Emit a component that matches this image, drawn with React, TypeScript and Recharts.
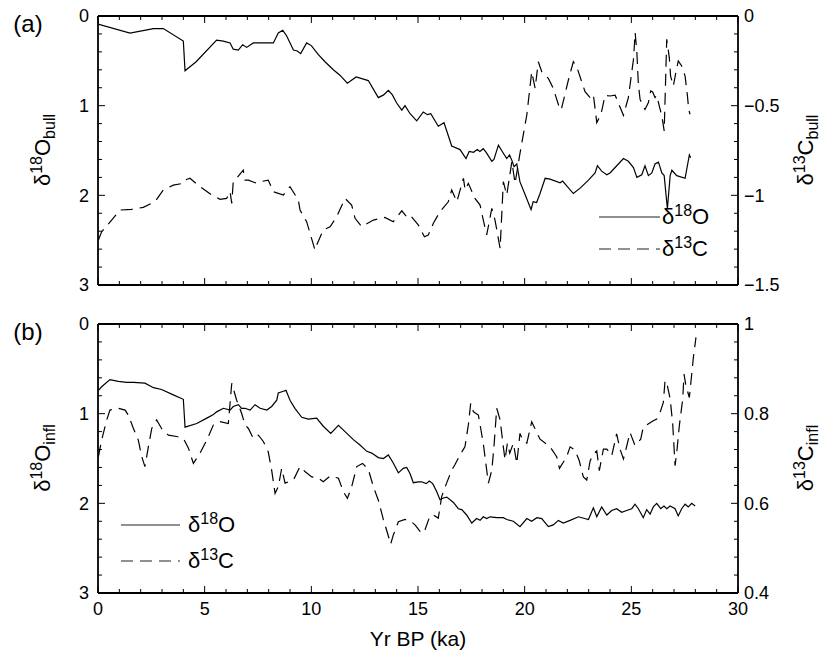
import React from "react";
import { LineChart, Line, XAxis, YAxis, Legend } from "recharts";

const FONT = "'Liberation Sans', Arial, Helvetica, sans-serif";

// (a) bulls: δ18O (left axis, reversed) and δ13C (right axis)
const bullO18Age = [
  0, 1.5, 2.6, 3.06, 4.0, 4.08, 4.6, 5.56, 5.87, 6.19, 6.34, 6.58, 6.78, 6.97, 7.28, 7.75, 8.22, 8.45, 8.66, 8.84,
  9.16, 9.34, 9.5, 9.78, 10.0, 10.33, 10.64, 11.03, 11.34, 11.69, 12.1, 12.67, 13.14, 13.39, 13.61, 13.8, 14.0,
  14.24, 14.39, 14.63, 14.94, 15.25, 15.44, 15.6, 15.95, 16.22, 16.58, 16.97, 17.25, 17.4, 17.6, 17.78, 17.9,
  18.06, 18.22, 18.46, 18.56, 18.77, 19.0, 19.16, 19.29, 19.4, 19.5, 19.63, 19.78, 20.0, 20.3, 20.4, 20.56, 20.72,
  20.96, 21.19, 21.66, 21.78, 22.28, 22.6, 22.99, 23.3, 23.41, 23.61, 23.85, 24.0, 24.24, 24.63, 24.86, 25.1,
  25.26, 25.49, 25.64, 25.8, 25.96, 26.11, 26.27, 26.43, 26.54, 26.6, 26.69, 26.82, 26.9, 27.13, 27.52, 27.72, 27.78,
];
const bullO18 = [
  0.09, 0.19, 0.14, 0.14, 0.28, 0.61, 0.51, 0.27, 0.28, 0.3, 0.37, 0.38, 0.32, 0.35, 0.3, 0.3, 0.3, 0.19, 0.16, 0.22,
  0.38, 0.39, 0.42, 0.3, 0.33, 0.43, 0.51, 0.6, 0.66, 0.75, 0.68, 0.72, 0.91, 0.88, 0.83, 0.88, 0.97,
  1.05, 1.0, 1.09, 1.17, 1.07, 1.1, 1.09, 1.23, 1.19, 1.45, 1.49, 1.59, 1.51, 1.52, 1.49, 1.51,
  1.48, 1.53, 1.62, 1.6, 1.44, 1.53, 1.59, 1.55, 1.61, 1.68, 1.65, 1.85, 1.98, 2.16, 2.07, 2.08, 1.98,
  1.81, 1.82, 1.86, 1.84, 1.98, 1.92, 1.83, 1.75, 1.67, 1.73, 1.77, 1.75, 1.69, 1.59, 1.62, 1.69,
  1.8, 1.77, 1.67, 1.78, 1.75, 1.65, 1.63, 1.75, 1.78, 1.93, 2.15, 1.78, 1.72, 1.78, 1.81, 1.55, 1.58,
];
const bullC13Age = [
  0.02, 0.17, 0.64, 1.03, 1.58, 2.12, 2.67, 3.06, 3.53, 4.0, 4.08, 4.31, 4.78, 5.33, 5.72, 6.03, 6.19, 6.27, 6.34,
  6.5, 6.81, 6.89, 7.05, 7.44, 7.6, 7.98, 8.22, 8.69, 9.0, 9.39, 9.47, 9.78, 9.94, 10.17, 10.25, 10.56, 10.88,
  11.19, 11.58, 11.89, 12.05, 12.36, 12.91, 13.45, 13.84, 14.24, 14.47, 14.63, 15.02, 15.3, 15.48, 15.72, 16.03,
  16.42, 16.58, 16.82, 17.13, 17.21, 17.36, 17.67, 17.91, 17.99, 18.22, 18.46, 18.61, 18.85, 19.0, 19.16, 19.4,
  19.55, 19.78, 20.1, 20.33, 20.49, 20.64, 20.8, 21.11, 21.34, 21.66, 21.73, 22.05, 22.28, 22.44, 22.83, 23.07,
  23.22, 23.38, 23.53, 23.61, 23.77, 24.0, 24.24, 24.63, 24.86, 25.1, 25.18, 25.26, 25.33, 25.41, 25.64, 25.8,
  25.91, 26.0, 26.11, 26.19, 26.35, 26.43, 26.54, 26.66, 26.78, 26.84, 26.97, 27.1, 27.2, 27.36, 27.52, 27.63,
  27.69, 27.75,
];
const bullC13 = [
  -1.249, -1.203, -1.138, -1.082, -1.078, -1.067, -1.036, -0.97, -0.943, -0.933, -0.915, -0.905, -0.952, -0.998,
  -1.022, -1.017, -0.98, -1.045, -0.924, -0.905, -0.859, -0.915, -0.915, -0.933, -0.924, -0.915, -0.98, -0.998,
  -0.952, -1.026, -1.082, -1.147, -1.212, -1.305, -1.277, -1.193, -1.175, -1.119, -1.017, -1.054, -1.128, -1.175,
  -1.138, -1.123, -1.147, -1.086, -1.119, -1.11, -1.166, -1.231, -1.222, -1.156, -1.091, -1.036, -0.97, -1.036,
  -0.905, -0.97, -0.933, -1.017, -1.054, -1.1, -1.221, -1.073, -1.138, -1.296, -0.924, -0.998, -0.812, -0.933,
  -0.766, -0.552, -0.311, -0.403, -0.255, -0.311, -0.348, -0.403, -0.524, -0.515, -0.357, -0.255, -0.283, -0.422,
  -0.455, -0.437, -0.595, -0.558, -0.53, -0.442, -0.446, -0.442, -0.554, -0.455, -0.242, -0.093, -0.205, -0.381,
  -0.465, -0.521, -0.483, -0.418, -0.424, -0.455, -0.442, -0.521, -0.558, -0.641, -0.13, -0.232, -0.335, -0.39,
  -0.307, -0.251, -0.279, -0.335, -0.446, -0.521, -0.548,
];

// (b) infl: δ18O (left axis, reversed) and δ13C (right axis)
const inflO18Age = [
  0.02, 0.17, 0.56, 0.95, 1.34, 1.66, 2.2, 2.6, 2.98, 3.53, 4.0, 4.08, 4.63, 5.1, 5.41, 5.56, 5.88, 6.19, 6.34, 6.58,
  6.73, 6.89, 7.13, 7.36, 7.6, 7.91, 8.14, 8.38, 8.45, 8.69, 8.81, 9.0, 9.23, 9.55, 9.86, 10.25, 10.56, 10.91, 11.27,
  11.58, 11.97, 12.28, 12.6, 12.83, 13.14, 13.38, 13.61, 13.84, 14.08, 14.31, 14.47, 14.63, 14.78, 15.02, 15.17,
  15.38, 15.53, 15.69, 15.88, 16.03, 16.19, 16.35, 16.66, 16.89, 17.05, 17.28, 17.52, 17.75, 17.91, 18.06, 18.22,
  18.38, 18.69, 19.0, 19.16, 19.47, 19.78, 20.1, 20.33, 20.57, 20.8, 21.11, 21.34, 21.58, 21.81, 22.13, 22.52,
  22.99, 23.22, 23.38, 23.61, 23.85, 24.08, 24.31, 24.55, 24.78, 25.02, 25.17, 25.33, 25.56, 25.72, 25.88, 26.03,
  26.19, 26.38, 26.53, 26.66, 26.82, 27.05, 27.2, 27.36, 27.52, 27.67, 27.83, 27.99,
];
const inflO18 = [
  0.74, 0.7, 0.62, 0.64, 0.65, 0.65, 0.66, 0.71, 0.73, 0.79, 0.84, 1.15, 1.11, 1.05, 1.01, 0.98, 0.94, 0.96, 0.92, 0.9,
  0.94, 0.94, 0.96, 0.9, 0.94, 0.96, 0.92, 0.85, 0.77, 0.75, 0.74, 0.85, 0.94, 1.04, 1.06, 1.05, 1.14, 1.22, 1.13,
  1.2, 1.29, 1.35, 1.42, 1.44, 1.49, 1.5, 1.46, 1.55, 1.66, 1.61, 1.6, 1.67, 1.77, 1.76, 1.76,
  1.78, 1.75, 1.78, 1.87, 1.96, 1.94, 1.93, 1.99, 2.06, 2.07, 2.13, 2.22, 2.17, 2.19, 2.15, 2.17,
  2.15, 2.16, 2.16, 2.18, 2.2, 2.26, 2.17, 2.2, 2.16, 2.17, 2.26, 2.24, 2.19, 2.22, 2.19, 2.15,
  2.18, 2.05, 2.15, 2.04, 2.13, 2.08, 2.06, 2.1, 2.08, 2.06, 2.01, 2.06, 2.16, 2.07, 2.12, 2.04,
  2.0, 2.06, 2.03, 2.06, 2.03, 2.06, 2.14, 2.06, 2.01, 2.04, 2.0, 2.03,
];
const inflC13Age = [
  0.02, 0.17, 0.41, 0.56, 0.95, 1.27, 1.42, 1.66, 1.89, 2.05, 2.2, 2.36, 2.52, 2.75, 2.98, 3.3, 3.69, 4.0, 4.24,
  4.47, 4.78, 5.1, 5.41, 5.72, 6.11, 6.27, 6.5, 6.73, 6.89, 7.05, 7.28, 7.52, 7.75, 7.98, 8.14, 8.3, 8.45, 8.61,
  8.77, 9.16, 9.47, 9.7, 10.02, 10.33, 10.56, 10.88, 11.27, 11.5, 11.69, 11.89, 12.13, 12.4, 12.67, 12.91, 13.14,
  13.38, 13.53, 13.72, 13.84, 14.08, 14.39, 14.63, 14.86, 15.17, 15.33, 15.56, 15.72, 15.95, 16.11, 16.19, 16.34,
  16.58, 16.73, 16.97, 17.2, 17.36, 17.47, 17.6, 17.83, 17.91, 18.06, 18.22, 18.3, 18.46, 18.56, 18.69, 18.85,
  19.0, 19.08, 19.19, 19.3, 19.47, 19.63, 19.78, 19.91, 20.1, 20.33, 20.44, 20.72, 21.19, 21.5, 21.63, 21.97,
  22.13, 22.36, 22.56, 22.75, 22.91, 23.07, 23.22, 23.38, 23.5, 23.69, 23.85, 24.08, 24.31, 24.47, 24.63, 24.75,
  24.94, 25.17, 25.44, 25.56, 26.03, 26.19, 26.35, 26.5, 26.58, 26.69, 26.82, 26.94, 27.05, 27.13, 27.25, 27.41,
  27.47, 27.56, 27.72, 27.91, 28.03,
];
const inflC13 = [
  0.704, 0.741, 0.786, 0.808, 0.812, 0.808, 0.797, 0.767, 0.741, 0.704, 0.682, 0.726, 0.767, 0.786, 0.767, 0.752,
  0.749, 0.745, 0.723, 0.689, 0.712, 0.741, 0.775, 0.782, 0.778, 0.868, 0.83, 0.801, 0.775, 0.767, 0.745, 0.752,
  0.738, 0.715, 0.674, 0.622, 0.637, 0.678, 0.645, 0.652, 0.682, 0.671, 0.659, 0.656, 0.648, 0.661, 0.656, 0.626,
  0.611, 0.637, 0.682, 0.689, 0.676, 0.637, 0.607, 0.563, 0.54, 0.509, 0.529, 0.559, 0.564, 0.561, 0.552, 0.533,
  0.541, 0.572, 0.574, 0.567, 0.615, 0.626, 0.645, 0.674, 0.686, 0.708, 0.726, 0.775, 0.823, 0.804, 0.797, 0.775,
  0.734, 0.674, 0.645, 0.674, 0.726, 0.812, 0.786, 0.726, 0.697, 0.734, 0.712, 0.734, 0.689, 0.756, 0.741, 0.734,
  0.782, 0.771, 0.743, 0.726, 0.704, 0.678, 0.704, 0.726, 0.719, 0.695, 0.659, 0.652, 0.695, 0.71, 0.717, 0.673,
  0.721, 0.721, 0.706, 0.755, 0.721, 0.699, 0.721, 0.758, 0.729, 0.743, 0.77, 0.784, 0.788, 0.803, 0.825, 0.874,
  0.862, 0.833, 0.777, 0.684, 0.714, 0.773, 0.833, 0.888, 0.862, 0.836, 0.926, 0.97,
];

const xTicks = Array.from({ length: 31 }, (_, i) => i);
const o18Ticks = Array.from({ length: 16 }, (_, i) => i * 0.2);
const bullC13Ticks = Array.from({ length: 16 }, (_, i) => -1.5 + i * 0.1);
const inflC13Ticks = Array.from({ length: 16 }, (_, i) => 0.4 + i * 0.04);

const toPts = (xs: number[], ys: number[]) => xs.map((x, i) => ({ x, y: ys[i] }));

const isMajor = (v: number, step: number) => Math.abs(v / step - Math.round(v / step)) < 1e-6;
const fmt = (v: number) => {
  const r = Math.round(v * 100) / 100;
  return r < 0 ? "\u2212" + Math.abs(r) : String(r);
};

const TICK_FONT = 18;
const TITLE_FONT = 22;
const SUB_FONT = 16;
const DASH = "12 7";

// axes are 1px wide/high (recharts skips 0-sized axes); ticks drawn inward by hand
const yTick = (side: "left" | "right", step: number) => (p: any) => {
  const { x, y, payload } = p;
  const major = isMajor(payload.value, step);
  const dir = side === "left" ? 1 : -1;
  return (
    <g>
      <line x1={x} x2={x + dir * (major ? 7 : 4)} y1={y} y2={y} stroke="#000" strokeWidth={1} />
      {major && (
        <text
          x={side === "left" ? x - 9 : x + 6}
          y={y}
          dy="0.35em"
          textAnchor={side === "left" ? "end" : "start"}
          fontFamily={FONT}
          fontSize={TICK_FONT}
          fill="#000"
        >
          {fmt(payload.value)}
        </text>
      )}
    </g>
  );
};

const xTick = (side: "top" | "bottom", labels: boolean) => (p: any) => {
  const { x, y, payload } = p;
  const major = isMajor(payload.value, 5);
  const dir = side === "top" ? 1 : -1;
  return (
    <g>
      <line x1={x} x2={x} y1={y} y2={y + dir * (major ? 7 : 4)} stroke="#000" strokeWidth={1} />
      {labels && major && (
        <text x={x} y={y + 9} dy="0.71em" textAnchor="middle" fontFamily={FONT} fontSize={TICK_FONT} fill="#000">
          {fmt(payload.value)}
        </text>
      )}
    </g>
  );
};

// rotated axis title such as δ18O_bull
const rotTitle = (x: number, y: number, sup: string, main: string, sub: string, panel?: string) => () => (
  <g>
    <text
      transform={`rotate(-90 ${x} ${y})`}
      x={x}
      y={y}
      textAnchor="middle"
      fontFamily={FONT}
      fontSize={TITLE_FONT}
      fill="#000"
    >
      δ
      <tspan fontSize={SUB_FONT} dy={-8}>
        {sup}
      </tspan>
      <tspan dy={8}>{main}</tspan>
      <tspan fontSize={SUB_FONT} dy={5}>
        {sub}
      </tspan>
    </text>
    {panel && (
      <text x={28} y={32} textAnchor="middle" fontFamily={FONT} fontSize={24} fill="#000">
        {panel}
      </text>
    )}
  </g>
);

const richName = (name: string) => {
  const m = /^δ(\d+)(\w+)$/.exec(name);
  if (!m) return name;
  return (
    <>
      δ
      <tspan fontSize={SUB_FONT} dy={-8}>
        {m[1]}
      </tspan>
      <tspan dy={8}>{m[2]}</tspan>
    </>
  );
};

const legendContent = (lineLen: number, textX: number, gap: number) => (props: any) => {
  const items = [...(props.payload || [])].sort(
    (a: any, b: any) => (a.payload?.strokeDasharray ? 1 : 0) - (b.payload?.strokeDasharray ? 1 : 0)
  );
  return (
    <svg width={150} height={80} style={{ display: "block", overflow: "visible" }}>
      {items.map((it: any, i: number) => {
        const y = 17 + i * gap;
        return (
          <g key={i}>
            <line
              x1={4}
              x2={4 + lineLen}
              y1={y}
              y2={y}
              stroke="#222"
              strokeWidth={1.1}
              strokeDasharray={it.payload?.strokeDasharray}
            />
            <text x={textX} y={y + 7} fontFamily={FONT} fontSize={TITLE_FONT} fill="#000">
              {richName(it.value)}
            </text>
          </g>
        );
      })}
    </svg>
  );
};

const axisLine = { stroke: "#000", strokeWidth: 1.8 };

function Panel(props: {
  height: number;
  bottom: number;
  o18Age: number[];
  o18: number[];
  c13Age: number[];
  c13: number[];
  c13Domain: [number, number];
  c13Ticks: number[];
  c13Step: number;
  sub: string;
  panel: string;
  xLabels: boolean;
  legendPos: { left: number; top: number };
  legendGeom: [number, number, number];
}) {
  return (
    <LineChart width={838} height={props.height} margin={{ top: 15, right: 99, bottom: props.bottom, left: 97 }}>
      <XAxis
        xAxisId="b"
        dataKey="x"
        type="number"
        domain={[0, 30]}
        allowDataOverflow
        ticks={xTicks}
        interval={0}
        height={1}
        tickSize={0}
        tickMargin={0}
        tickLine={false}
        axisLine={axisLine}
        tick={xTick("bottom", props.xLabels)}
        label={
          props.xLabels
            ? () => (
                <text x={418} y={338} textAnchor="middle" fontFamily={FONT} fontSize={21} fill="#000">
                  Yr BP (ka)
                </text>
              )
            : undefined
        }
      />
      <XAxis
        xAxisId="t"
        orientation="top"
        dataKey="x"
        type="number"
        domain={[0, 30]}
        allowDataOverflow
        ticks={xTicks}
        interval={0}
        height={1}
        tickSize={0}
        tickMargin={0}
        tickLine={false}
        axisLine={axisLine}
        tick={xTick("top", false)}
      />
      <YAxis
        yAxisId="l"
        domain={[0, 3]}
        reversed
        allowDataOverflow
        ticks={o18Ticks}
        interval={0}
        width={1}
        tickSize={0}
        tickMargin={0}
        tickLine={false}
        axisLine={axisLine}
        tick={yTick("left", 1)}
        label={rotTitle(50, 150, "18", "O", props.sub, props.panel)}
      />
      <YAxis
        yAxisId="r"
        orientation="right"
        domain={props.c13Domain}
        allowDataOverflow
        ticks={props.c13Ticks}
        interval={0}
        width={1}
        tickSize={0}
        tickMargin={0}
        tickLine={false}
        axisLine={axisLine}
        tick={yTick("right", props.c13Step)}
        label={rotTitle(813, 150, "13", "C", props.sub)}
      />
      <Legend
        layout="horizontal"
        align="center"
        verticalAlign="middle"
        wrapperStyle={{ ...props.legendPos, width: 150, height: 80 }}
        content={legendContent(...props.legendGeom)}
      />
      <Line
        name="δ18O"
        data={toPts(props.o18Age, props.o18)}
        xAxisId="b"
        yAxisId="l"
        dataKey="y"
        type="linear"
        stroke="#000"
        strokeWidth={1.2}
        dot={false}
        isAnimationActive={false}
      />
      <Line
        name="δ13C"
        data={toPts(props.c13Age, props.c13)}
        xAxisId="b"
        yAxisId="r"
        dataKey="y"
        type="linear"
        stroke="#000"
        strokeWidth={1.2}
        strokeDasharray={DASH}
        dot={false}
        isAnimationActive={false}
      />
    </LineChart>
  );
}

export default function App() {
  return (
    <div style={{ position: "absolute", left: 0, top: 0, width: 838, height: 652, background: "#fff" }}>
      <div style={{ position: "absolute", left: 0, top: 0 }}>
        <Panel
          height={300}
          bottom={14}
          o18Age={bullO18Age}
          o18={bullO18}
          c13Age={bullC13Age}
          c13={bullC13}
          c13Domain={[-1.5, 0]}
          c13Ticks={bullC13Ticks}
          c13Step={0.5}
          sub="bull"
          panel="(a)"
          xLabels={false}
          legendPos={{ left: 595, top: 200 }}
          legendGeom={[61, 67, 32]}
        />
      </div>
      <div style={{ position: "absolute", left: 0, top: 308 }}>
        <Panel
          height={344}
          bottom={58}
          o18Age={inflO18Age}
          o18={inflO18}
          c13Age={inflC13Age}
          c13={inflC13}
          c13Domain={[0.4, 1]}
          c13Ticks={inflC13Ticks}
          c13Step={0.2}
          sub="infl"
          panel="(b)"
          xLabels={true}
          legendPos={{ left: 117, top: 200 }}
          legendGeom={[59, 71, 36]}
        />
      </div>
    </div>
  );
}
